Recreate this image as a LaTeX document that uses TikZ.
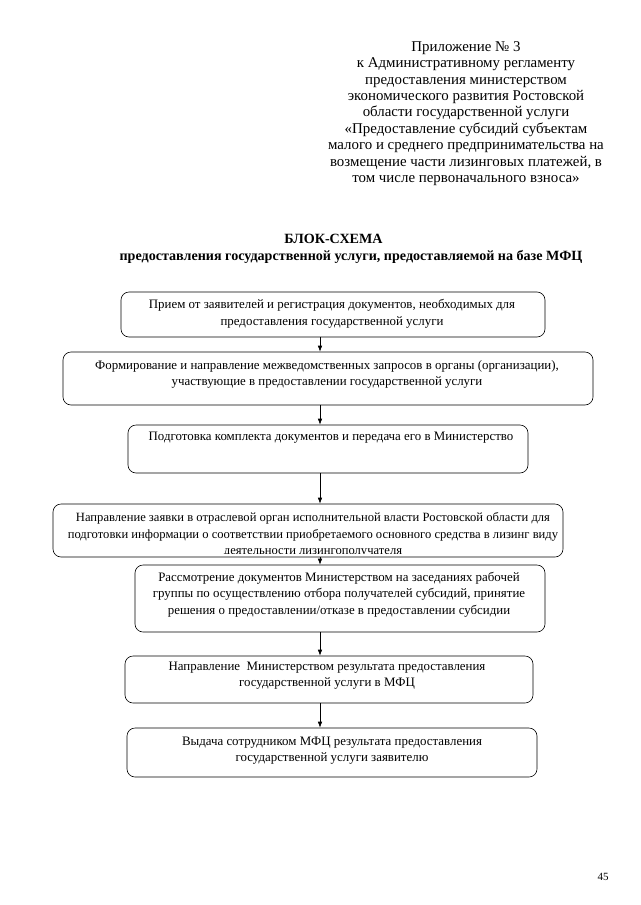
\documentclass[tikz,border=0pt]{standalone}
\usepackage{fontspec}
\setmainfont{Liberation Serif}
\usetikzlibrary{arrows.meta, positioning}

\begin{document}
\begin{tikzpicture}[x=1pt, y=-1pt,
    box/.style={draw, rounded corners=8pt, line width=0.6pt, inner sep=0pt},
    txt/.style={align=center, inner sep=0pt, font=\fontsize{12.9}{16.6}\selectfont},
    arr/.style={-{Latex[length=6pt,width=4.5pt]}, line width=0.6pt}]
  \useasboundingbox (0,0) rectangle (640,905);
  % header
  \node[txt, font=\fontsize{14.9}{16.4}\selectfont] (app) at (466,113.5)
    {Приложение № 3\\к Административному регламенту\\предоставления министерством\\
     экономического развития Ростовской\\области государственной услуги\\
     «Предоставление субсидий субъектам\\малого и среднего предпринимательства на\\
     возмещение части лизинговых платежей, в\\том числе первоначального взноса»};
  \node[txt, font=\bfseries\fontsize{14.1}{16.8}\selectfont] (title) at (351,248.5)
    {\hspace*{-35pt}БЛОК-СХЕМА\\предоставления государственной услуги, предоставляемой на базе МФЦ};

  % boxes
  \node[box, minimum width=424pt, minimum height=45pt] (b1) at (333,314.5) {};
  \node[box, minimum width=530pt, minimum height=53pt] (b2) at (328,378.5) {};
  \node[box, minimum width=400pt, minimum height=48pt] (b3) at (328,449) {};
  \node[box, minimum width=510pt, minimum height=53pt] (b4) at (308,530.5) {};
  \node[box, minimum width=410pt, minimum height=67pt] (b5) at (340,598.5) {};
  \node[box, minimum width=408pt, minimum height=47pt] (b6) at (329,679.5) {};
  \node[box, minimum width=410pt, minimum height=49pt] (b7) at (332,752.5) {};

  % texts
  \node[txt] (t1) at (332,314) {Прием от заявителей и регистрация документов, необходимых для\\
    предоставления государственной услуги};
  \node[txt] (t2) at (327,374.5) {Формирование и направление межведомственных запросов в органы (организации),\\
    участвующие в предоставлении государственной услуги};
  \node[txt] (t3) at (331,438) {Подготовка комплекта документов и передача его в Министерство};
  \begin{scope}
    % last line is cut by the box edge
    \clip ([yshift=4pt]b4.south west) rectangle (b4.north east);
    \node[txt, font=\fontsize{12.6}{16.6}\selectfont] (t4) at (313,535)
      {Направление заявки в отраслевой орган исполнительной власти Ростовской области для\\
      подготовки информации о соответствии приобретаемого основного средства в лизинг виду\\
      деятельности лизингополучателя};
  \end{scope}
  \node[txt] (t5) at (339,594.5) {Рассмотрение документов Министерством на заседаниях рабочей\\
    группы по осуществлению отбора получателей субсидий, принятие\\
    решения о предоставлении/отказе в предоставлении субсидии};
  \node[txt] (t6) at (327,675.5) {Направление\ \ Министерством результата предоставления\\
    государственной услуги в МФЦ};
  \node[txt] (t7) at (332,750.5) {Выдача сотрудником МФЦ результата предоставления\\
    государственной услуги заявителю};

  % arrows
  \coordinate (ax) at (320,0);
  \foreach \a/\b in {b1/b2, b2/b3, b3/b4, b4/b5, b5/b6, b6/b7}
    \draw[arr] (\a.south -| ax) -- (\b.north -| ax);

  \node[txt, font=\fontsize{11}{13}\selectfont] (page) at (603,877) {45};
\end{tikzpicture}
\end{document}
